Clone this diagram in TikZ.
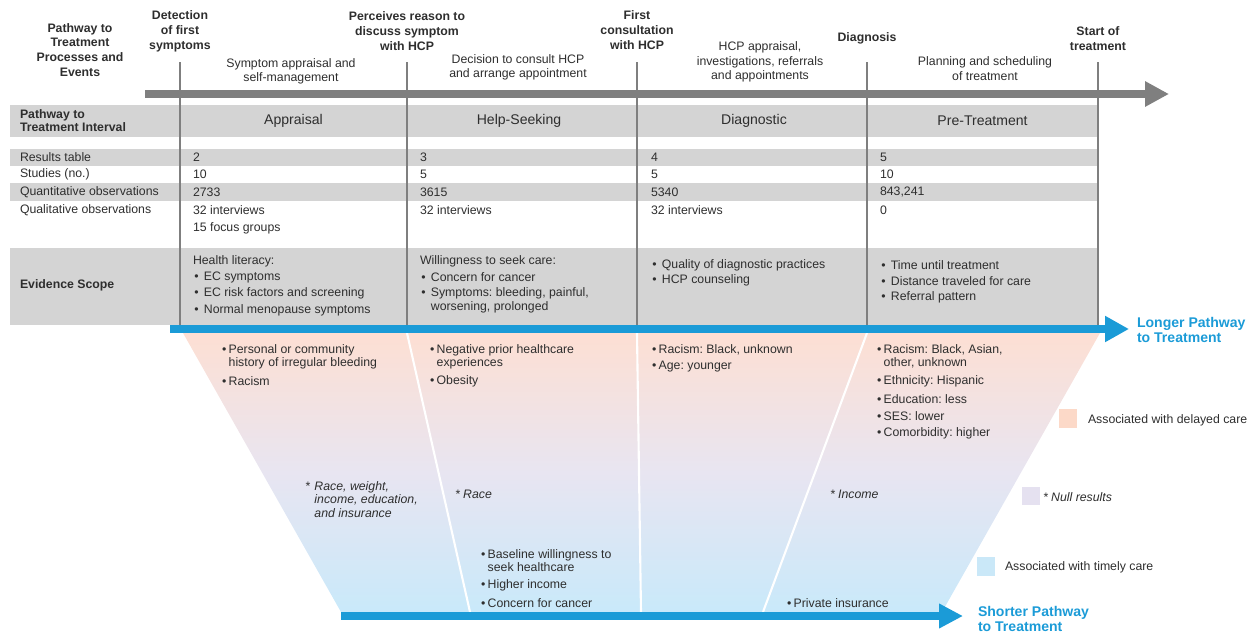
\documentclass[tikz,border=0pt]{standalone}
\usepackage{fontspec}
\setmainfont{Liberation Sans}
\usetikzlibrary{arrows.meta}
\frenchspacing

% colours
\definecolor{bandgray}{HTML}{D4D4D4}
\definecolor{tickgray}{HTML}{7F7F7F}
\definecolor{pathblue}{HTML}{1B9BD7}
\definecolor{txtgray}{HTML}{2E2E2E}
\definecolor{delaycol}{HTML}{FCD9C8}
\definecolor{nullcol}{HTML}{E5E1F0}
\definecolor{timelycol}{HTML}{CAE8F8}
\definecolor{funtop}{HTML}{FDDFD3}
\definecolor{funmid}{HTML}{E8E5F1}
\definecolor{funbot}{HTML}{C9E9FA}

% bullets: tight ones in the funnel, wider ones in the evidence row
\newcommand{\funbul}{\makebox[3.8pt][l]{•}}
\newcommand{\funind}{\hspace*{3.8pt}}
\newcommand{\evbul}{\makebox[6.2pt][l]{\hspace{0.8pt}•}}
\newcommand{\evind}{\hspace*{6.2pt}}
\newcommand{\nullmark}{\makebox[5.4pt][l]{*}}

\tikzset{
    every node/.style={inner sep=0pt, outer sep=0pt, text=txtgray},
    txt/.style={font=\fontsize{7}{8.5}\selectfont, anchor=west, align=left},
    evtxt/.style={font=\fontsize{7}{8}\selectfont, anchor=west, align=left},
    hdr/.style={font=\bfseries\fontsize{7}{8.5}\selectfont, align=center},
    proc/.style={font=\fontsize{7}{8.3}\selectfont, align=center},
    ivl/.style={font=\fontsize{8}{9.6}\selectfont},
    fun/.style={font=\fontsize{7}{7.4}\selectfont, anchor=west, align=left},
    nul/.style={font=\itshape\fontsize{7}{7.6}\selectfont, anchor=west, align=left},
    pathlab/.style={font=\bfseries\fontsize{8}{9}\selectfont, text=pathblue, anchor=west, align=left},
    keybox/.style={minimum width=10.2pt, minimum height=10.6pt},
    tick/.style={tickgray, line width=1.5pt},
    divider/.style={white, line width=1.2pt}
}

\begin{document}
\begin{tikzpicture}[x=0.02cm, y=-0.02cm]
    \useasboundingbox (0,0) rectangle (1252,633);

    % Event positions along the pathway
    \foreach \x [count=\i] in {180,407,637,867,1098} {
        \coordinate (tick\i-top) at (\x,62);
        \coordinate (tick\i-bot) at (\x,325);
    }
    \coordinate (gray-s) at (145,94);
    \coordinate (gray-e) at (1169,94);
    \coordinate (long-s) at (170,329);
    \coordinate (long-e) at (1129,329);
    \coordinate (short-s) at (341,616);
    \coordinate (short-e) at (963,616);

    % Grey table bands
    \fill[bandgray] (10,105) rectangle (1098,137);
    \fill[bandgray] (10,149) rectangle (1098,166);
    \fill[bandgray] (10,183) rectangle (1098,201);
    \fill[bandgray] (10,248) rectangle (1098,325);

    % Funnel with colour fade
    \shade[top color=funtop, bottom color=funbot, middle color=funmid]
        (183,333) -- (1100,333) -- (942,612) -- (341,612) -- cycle;
    \draw[divider] (407,333) -- (470,612);
    \draw[divider] (637,333) -- (641,612);
    \draw[divider] (867,333) -- (763,612);

    % Time axis and event ticks
    \draw[tickgray, line width=4.5pt, -{Triangle[length=13.6pt, width=13.6pt]}] (gray-s) -- (gray-e);
    \foreach \i in {1,...,5} {
        \draw[tick] (tick\i-top) -- (tick\i-bot);
    }

    % Longer / shorter pathway arrows
    \draw[pathblue, line width=4.5pt, -{Triangle[length=13.6pt, width=14pt]}] (long-s) -- (long-e);
    \draw[pathblue, line width=4.5pt, -{Triangle[length=13.6pt, width=13.2pt]}] (short-s) -- (short-e);
    \node[pathlab] (longer) at (1137,330) {Longer Pathway\\to Treatment};
    \node[pathlab] (shorter) at (978,619) {Shorter Pathway\\to Treatment};

    % Processes and events
    \node[hdr] (ev0) at (80,50) {Pathway to\\Treatment\\Processes and\\Events};
    \node[hdr] (ev1) at (180,31.5) {Detection\\of first\\symptoms};
    \node[hdr] (ev2) at (407,31) {Perceives reason to\\discuss symptom\\with HCP};
    \node[hdr] (ev3) at (637,30) {First\\consultation\\with HCP};
    \node[hdr] (ev4) at (867,38) {Diagnosis};
    \node[hdr] (ev5) at (1098,38.5) {Start of\\treatment};

    \node[proc] (pr1) at (291,71.5) {Symptom appraisal and\\self-management};
    \node[proc] (pr2) at (518,67.5) {Decision to consult HCP\\and arrange appointment};
    \node[proc] (pr3) at (760,62) {HCP appraisal,\\investigations, referrals\\and appointments};
    \node[proc] (pr4) at (985,68.5) {Planning and scheduling\\of treatment};

    % Interval row
    \node[txt, font=\bfseries\fontsize{7}{7.4}\selectfont] (iv0) at (20,120.5) {Pathway to\\Treatment Interval};
    \foreach \x/\t [count=\i] in {293.5/Appraisal, 519/Help-Seeking, 754/Diagnostic, 982.5/Pre-Treatment} {
        \node[ivl] (iv\i) at (\x,121) {\t};
    }

    % Results table
    \foreach \y/\lab/\a/\b/\c/\d [count=\r] in {
        157/Results table/2/3/4/5,
        174/Studies (no.)/10/5/5/10,
        192/Quantitative observations/2733/3615/5340/{843,241},
        210/Qualitative observations/32 interviews/32 interviews/32 interviews/0} {
        \node[txt] (row\r-lab) at (20,\y) {\lab};
        \node[txt] (row\r-c1) at (193,\y) {\a};
        \node[txt] (row\r-c2) at (420,\y) {\b};
        \node[txt] (row\r-c3) at (651,\y) {\c};
        \node[txt] (row\r-c4) at (880,\y) {\d};
    }
    \node[txt] (row4-c1b) at (193,228) {15 focus groups};

    % Evidence scope
    \node[txt, font=\bfseries\fontsize{7}{8.5}\selectfont] (ev-lab) at (20,285) {Evidence Scope};
    \node[evtxt] (ev1a) at (193,261) {Health literacy:};
    \node[evtxt] (ev1b) at (193,277) {\evbul EC symptoms};
    \node[evtxt] (ev1c) at (193,293) {\evbul EC risk factors and screening};
    \node[evtxt] (ev1d) at (193,310) {\evbul Normal menopause symptoms};
    \node[evtxt] (ev2a) at (420,261) {Willingness to seek care:};
    \node[evtxt] (ev2b) at (420,277) {\evbul Concern for cancer};
    \node[evtxt] (ev2c) at (420,300) {\evbul Symptoms: bleeding, painful,\\\evind worsening, prolonged};
    \node[evtxt] (ev3a) at (651,265) {\evbul Quality of diagnostic practices};
    \node[evtxt] (ev3b) at (651,280) {\evbul HCP counseling};
    \node[evtxt] (ev4a) at (880,265) {\evbul Time until treatment};
    \node[evtxt] (ev4b) at (880,281) {\evbul Distance traveled for care};
    \node[evtxt] (ev4c) at (880,297) {\evbul Referral pattern};

    % Factors associated with delayed care
    \node[fun] (f1a) at (222,356.5) {\funbul Personal or community\\\funind history of irregular bleeding};
    \node[fun] (f1b) at (222,381) {\funbul Racism};
    \node[fun] (f2a) at (430,356.5) {\funbul Negative prior healthcare\\\funind experiences};
    \node[fun] (f2b) at (430,381) {\funbul Obesity};
    \node[fun] (f3a) at (652,350) {\funbul Racism: Black, unknown};
    \node[fun] (f3b) at (652,367) {\funbul Age: younger};
    \node[fun] (f4a) at (877,356.5) {\funbul Racism: Black, Asian,\\\funind other, unknown};
    \foreach \y/\t [count=\k] in {381/Ethnicity: Hispanic, 399/Education: less, 416/SES: lower, 433/Comorbidity: higher} {
        \node[fun] (f4-\k) at (877,\y) {\funbul\t};
    }

    % Null results
    \node[nul] (n1) at (305,499.5) {\nullmark Race, weight,\\\hspace*{5.4pt}income, education,\\\hspace*{5.4pt}and insurance};
    \node[nul] (n2) at (455,494) {* Race};
    \node[nul] (n3) at (830,494) {* Income};

    % Factors associated with timely care
    \node[fun] (g1a) at (481,560.5) {\funbul Baseline willingness to\\\funind seek healthcare};
    \node[fun] (g1b) at (481,585) {\funbul Higher income};
    \node[fun] (g1c) at (481,603) {\funbul Concern for cancer};
    \node[fun] (g2a) at (787,603) {\funbul Private insurance};

    % Key
    \node[keybox, fill=delaycol] (key-delay) at (1068,418.5) {};
    \node[txt] (key-delay-t) at (1088,420) {Associated with delayed care};
    \node[keybox, fill=nullcol] (key-null) at (1031,496) {};
    \node[nul] (key-null-t) at (1043,497) {* Null results};
    \node[keybox, fill=timelycol] (key-timely) at (986,566.5) {};
    \node[txt] (key-timely-t) at (1005,567) {Associated with timely care};

\end{tikzpicture}
\end{document}
